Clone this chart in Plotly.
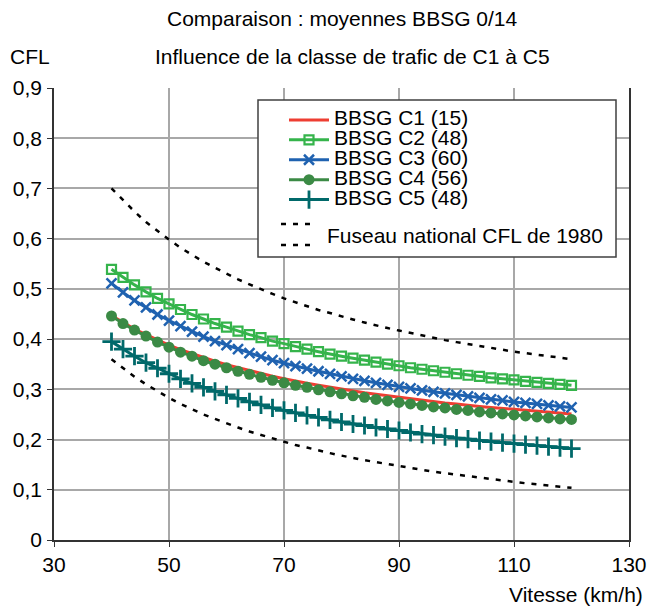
import plotly.graph_objects as go

speed = [40, 42, 44, 46, 48, 50, 52, 54, 56, 58, 60, 62, 64, 66, 68, 70, 72, 74, 76, 78, 80,
         82, 84, 86, 88, 90, 92, 94, 96, 98, 100, 102, 104, 106, 108, 110, 112, 114, 116, 118, 120]

c1 = [0.447, 0.433, 0.420, 0.409, 0.398, 0.388, 0.379, 0.371, 0.363, 0.356, 0.349, 0.343, 0.337, 0.331,
      0.326, 0.321, 0.316, 0.312, 0.308, 0.304, 0.300, 0.296, 0.293, 0.290, 0.287, 0.284, 0.281, 0.278,
      0.276, 0.273, 0.271, 0.268, 0.266, 0.264, 0.262, 0.260, 0.258, 0.256, 0.254, 0.253, 0.251]
c2 = [0.539, 0.523, 0.508, 0.494, 0.481, 0.470, 0.459, 0.449, 0.440, 0.431, 0.424, 0.416, 0.409, 0.403,
      0.396, 0.391, 0.385, 0.380, 0.375, 0.370, 0.366, 0.362, 0.358, 0.354, 0.350, 0.347, 0.343, 0.340,
      0.337, 0.334, 0.331, 0.328, 0.326, 0.323, 0.321, 0.319, 0.316, 0.314, 0.312, 0.310, 0.308]
c3 = [0.511, 0.493, 0.477, 0.463, 0.449, 0.437, 0.426, 0.415, 0.405, 0.396, 0.388, 0.380, 0.372, 0.365,
      0.358, 0.352, 0.346, 0.341, 0.336, 0.331, 0.326, 0.321, 0.317, 0.313, 0.309, 0.305, 0.302, 0.298,
      0.295, 0.292, 0.289, 0.286, 0.283, 0.280, 0.278, 0.275, 0.273, 0.271, 0.268, 0.266, 0.264]
c4 = [0.446, 0.431, 0.418, 0.406, 0.394, 0.384, 0.374, 0.366, 0.357, 0.350, 0.343, 0.336, 0.330, 0.324,
      0.318, 0.313, 0.308, 0.304, 0.299, 0.295, 0.291, 0.287, 0.284, 0.280, 0.277, 0.274, 0.271, 0.268,
      0.265, 0.263, 0.260, 0.258, 0.255, 0.253, 0.251, 0.249, 0.247, 0.245, 0.243, 0.241, 0.240]
c5 = [0.395, 0.380, 0.366, 0.353, 0.342, 0.331, 0.321, 0.312, 0.304, 0.296, 0.289, 0.282, 0.275, 0.269,
      0.263, 0.258, 0.253, 0.248, 0.244, 0.239, 0.235, 0.231, 0.228, 0.224, 0.221, 0.218, 0.214, 0.211,
      0.209, 0.206, 0.203, 0.201, 0.198, 0.196, 0.194, 0.192, 0.190, 0.188, 0.186, 0.184, 0.182]
fuseau_haut = [0.700, 0.676, 0.654, 0.633, 0.615, 0.598, 0.582, 0.568, 0.554, 0.542, 0.530, 0.519, 0.509,
               0.499, 0.490, 0.481, 0.473, 0.466, 0.458, 0.452, 0.445, 0.439, 0.433, 0.427, 0.422, 0.417,
               0.412, 0.407, 0.403, 0.398, 0.394, 0.390, 0.386, 0.382, 0.379, 0.375, 0.372, 0.369, 0.366,
               0.363, 0.360]
fuseau_bas = [0.360, 0.342, 0.325, 0.310, 0.296, 0.283, 0.271, 0.260, 0.250, 0.241, 0.232, 0.224, 0.216,
              0.209, 0.202, 0.195, 0.189, 0.184, 0.178, 0.173, 0.168, 0.163, 0.159, 0.155, 0.151, 0.147,
              0.143, 0.139, 0.136, 0.133, 0.130, 0.127, 0.124, 0.121, 0.118, 0.116, 0.113, 0.111, 0.108,
              0.106, 0.104]

names = ["BBSG C1 (15)", "BBSG C2 (48)", "BBSG C3 (60)", "BBSG C4 (56)", "BBSG C5 (48)"]
fuseau_name = "Fuseau national CFL de 1980"
x_ticks = [30, 50, 70, 90, 110, 130]
y_ticks = [0, 0.1, 0.2, 0.3, 0.4, 0.5, 0.6, 0.7, 0.8, 0.9]
title1 = "Comparaison : moyennes BBSG 0/14"
title2 = "Influence de la classe de trafic de C1 à C5"
y_title = "CFL"
x_title = "Vitesse (km/h)"

FONT = "Liberation Sans, Arial, Helvetica, sans-serif"
FS = 21
LEG_FS = 21


def lname(s):
    return f'<span style="font-size:{LEG_FS}px">{s}</span>'


fig = go.Figure()
dash = "5px,7px"
fig.add_trace(go.Scatter(x=speed, y=fuseau_haut, mode="lines", showlegend=False,
                         line=dict(color="black", width=2.5, dash=dash)))
fig.add_trace(go.Scatter(x=speed, y=fuseau_bas, mode="lines", showlegend=False,
                         line=dict(color="black", width=2.5, dash=dash)))

fig.add_trace(go.Scatter(x=speed, y=c1, mode="lines", name=lname(names[0]),
                         line=dict(color="#ee3e32", width=3)))
fig.add_trace(go.Scatter(x=speed, y=c2, mode="lines+markers", name=lname(names[1]),
                         line=dict(color="#35b44b", width=3),
                         marker=dict(symbol="square-open", size=9, color="#35b44b",
                                     line=dict(width=2.2, color="#35b44b"))))
fig.add_trace(go.Scatter(x=speed, y=c3, mode="lines+markers", name=lname(names[2]),
                         line=dict(color="#1f62b0", width=3),
                         marker=dict(symbol="x-thin", size=10, color="#1f62b0",
                                     line=dict(width=2.5, color="#1f62b0"))))
fig.add_trace(go.Scatter(x=speed, y=c4, mode="lines+markers", name=lname(names[3]),
                         line=dict(color="#3b8a45", width=3),
                         marker=dict(symbol="circle", size=11, color="#3b8a45")))
fig.add_trace(go.Scatter(x=speed, y=c5, mode="lines+markers", name=lname(names[4]),
                         line=dict(color="#00696a", width=3),
                         marker=dict(symbol="cross-thin", size=13, color="#00696a",
                                     line=dict(width=2.8, color="#00696a"))))

L, R, T, B = 54, 20, 88, 66
W, H = 649, 606
PW, PH = W - L - R, H - T - B


def px(xp):
    return (xp - L) / PW


def py(yp):
    return (H - B - yp) / PH


shapes = [
    dict(type="rect", xref="paper", yref="paper", x0=px(258), x1=px(616), y0=py(257), y1=py(100),
         line=dict(color="#404040", width=1.5), fillcolor="white", layer="above"),
    dict(type="line", xref="paper", yref="paper", x0=px(281), x1=px(316), y0=py(224), y1=py(224),
         line=dict(color="black", width=2.5, dash=dash), layer="above"),
    dict(type="line", xref="paper", yref="paper", x0=px(281), x1=px(316), y0=py(245), y1=py(245),
         line=dict(color="black", width=2.5, dash=dash), layer="above"),
]

annotations = [
    dict(text=title1, xref="paper", yref="paper", x=px(342), y=py(19), xanchor="center", yanchor="middle",
         showarrow=False, font=dict(size=FS)),
    dict(text=title2, xref="paper", yref="paper", x=px(352), y=py(57), xanchor="center", yanchor="middle",
         showarrow=False, font=dict(size=FS)),
    dict(text=y_title, xref="paper", yref="paper", x=px(30), y=py(57), xanchor="center", yanchor="middle",
         showarrow=False, font=dict(size=FS)),
    dict(text=x_title, xref="paper", yref="paper", x=px(645), y=py(594), xanchor="right", yanchor="middle",
         showarrow=False, font=dict(size=FS)),
    dict(text=fuseau_name, xref="paper", yref="paper", x=px(325), y=py(236), xanchor="left", yanchor="middle",
         showarrow=False, font=dict(size=LEG_FS)),
]

fig.update_layout(
    width=W, height=H,
    margin=dict(l=L, r=R, t=T, b=B, pad=0, autoexpand=False),
    paper_bgcolor="white", plot_bgcolor="white",
    font=dict(family=FONT, size=FS, color="black"),
    separators=", ",
    showlegend=True,
    legend=dict(x=px(284), y=py(105), xanchor="left", yanchor="top",
                bgcolor="rgba(0,0,0,0)", borderwidth=0, itemwidth=40,
                font=dict(size=13, family=FONT, color="black"), tracegroupgap=0),
    shapes=shapes,
    annotations=annotations,
    xaxis=dict(range=[30, 130], tickvals=x_ticks, showgrid=True, gridcolor="#a8a8a8", gridwidth=1.5,
               showline=True, linecolor="#333333", linewidth=1.5, mirror=False, automargin=False,
               ticks="outside", ticklen=5, tickcolor="#333333", ticklabelstandoff=0,
               zeroline=False, tickfont=dict(size=FS)),
    yaxis=dict(range=[0, 0.9], tickvals=y_ticks, showgrid=True, gridcolor="#a8a8a8", gridwidth=1.5,
               showline=True, linecolor="#333333", linewidth=1.5, mirror=True, automargin=False,
               ticks="outside", ticklen=5, tickcolor="#333333", ticklabelstandoff=1,
               zeroline=False, tickfont=dict(size=FS)),
)

fig.write_html("out.html", config={"displayModeBar": False},
               post_script="document.body.style.margin='0';document.body.style.padding='0';")
